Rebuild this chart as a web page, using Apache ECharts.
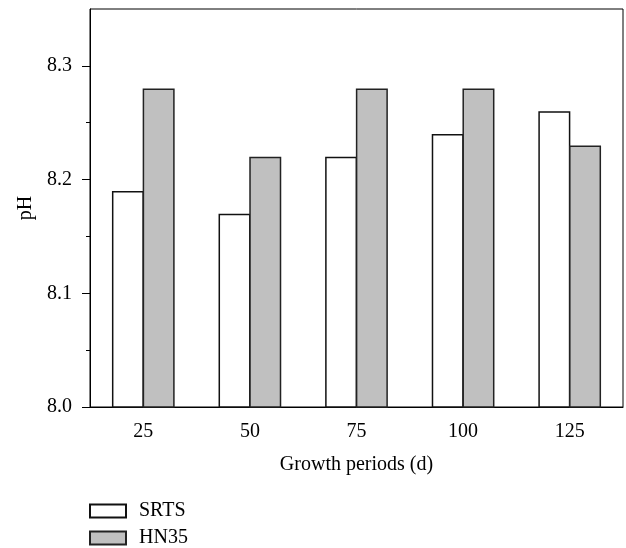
<!DOCTYPE html>
<html>
<head>
<meta charset="utf-8">
<script src="https://cdn.jsdelivr.net/npm/echarts@6/dist/echarts.min.js"></script>
<style>html,body{margin:0;padding:0;background:#fff}#c{width:626px;height:548px}</style>
</head>
<body>
<div id="c"></div>
<script>
const categories = ['25', '50', '75', '100', '125'];
const srts = [8.19, 8.17, 8.22, 8.24, 8.26];
const hn35 = [8.28, 8.22, 8.28, 8.28, 8.23];
const yMajorTicks = [8.0, 8.1, 8.2, 8.3];
const yMinorTicks = [8.05, 8.15, 8.25];
const seriesNames = ['SRTS', 'HN35'];

const FONT = '"Liberation Serif", "DejaVu Serif", serif';
const FS = 20;
const chart = echarts.init(document.getElementById('c'));
chart.setOption({
  animation: false,
  backgroundColor: '#fff',
  textStyle: { fontFamily: FONT, color: '#000' },
  grid: { left: 90, right: 3, top: 9, bottom: 141, show: true, borderColor: '#000', borderWidth: 1, backgroundColor: 'transparent', containLabel: false },
  legend: {
    orient: 'vertical', left: 89, top: 501, padding: 0,
    itemWidth: 36, itemHeight: 13, itemGap: 7,
    icon: 'rect',
    textStyle: { fontFamily: FONT, fontSize: FS, color: '#000', padding: [0, 0, 0, 8] },
    data: seriesNames
  },
  xAxis: [{
    type: 'category', data: categories, position: 'bottom',
    name: 'Growth periods (d)', nameLocation: 'middle', nameGap: 48,
    nameTextStyle: { fontFamily: FONT, fontSize: FS, color: '#000' },
    axisLine: { lineStyle: { color: '#000', width: 1 } },
    axisTick: { alignWithLabel: true, length: 8, lineStyle: { color: '#000' } },
    axisLabel: { fontFamily: FONT, fontSize: FS, color: '#000', margin: 15 },
    splitLine: { show: false }
  }, {
    type: 'category', data: categories, position: 'bottom',
    axisLine: { show: false },
    axisTick: { alignWithLabel: false, length: 4, lineStyle: { color: '#000' } },
    axisLabel: { show: false },
    splitLine: { show: false }
  }],
  yAxis: [{
    type: 'value', min: 8.0, max: 8.35, position: 'left',
    name: 'pH', nameLocation: 'middle', nameGap: 52, nameRotate: 90,
    nameTextStyle: { fontFamily: FONT, fontSize: FS, color: '#000' },
    axisLine: { show: true, lineStyle: { color: '#000', width: 1 } },
    axisTick: { show: true, length: 8, customValues: yMajorTicks, lineStyle: { color: '#000' } },
    axisLabel: { fontFamily: FONT, fontSize: FS, color: '#000', margin: 18, customValues: yMajorTicks, formatter: v => v.toFixed(1) },
    splitLine: { show: false }
  }, {
    type: 'value', min: 8.0, max: 8.35, position: 'left',
    axisLine: { show: false },
    axisTick: { show: true, length: 4, customValues: yMinorTicks, lineStyle: { color: '#000' } },
    axisLabel: { show: false, customValues: yMinorTicks },
    splitLine: { show: false }
  }],
  series: [{
    name: seriesNames[0], type: 'bar', data: srts, barWidth: 32, barGap: '-4%',
    itemStyle: { color: '#ffffff', borderColor: '#111', borderWidth: 1.5 }
  }, {
    name: seriesNames[1], type: 'bar', data: hn35, barWidth: 32, barGap: '-4%',
    itemStyle: { color: '#c0c0c0', borderColor: '#222', borderWidth: 1.5 }
  }]
});
</script>
</body>
</html>
